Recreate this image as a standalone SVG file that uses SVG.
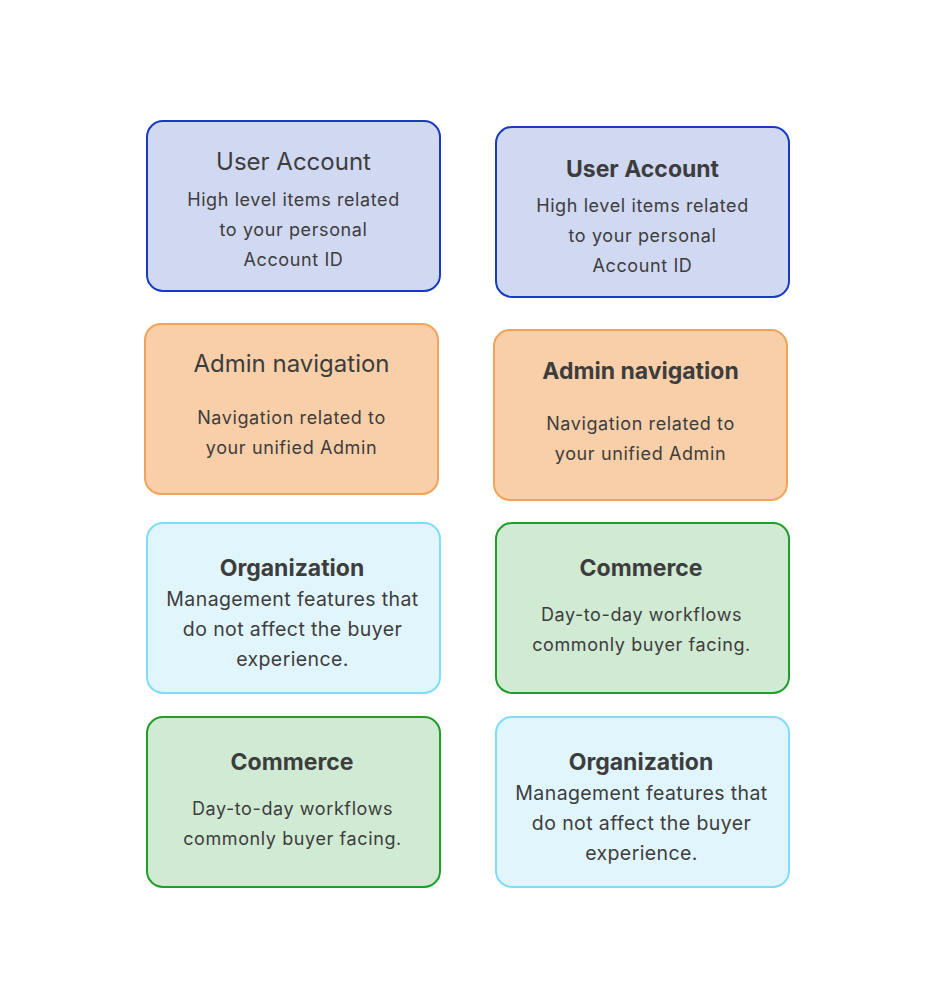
<svg xmlns="http://www.w3.org/2000/svg" width="935" height="995" viewBox="0 0 935 995">
<style>
.box{stroke-width:2}
.blue{fill:#d0d8f2;stroke:#1a3bc1}
.orange{fill:#f8cfa8;stroke:#f2a35a}
.sky{fill:#e1f5fd;stroke:#80dcf8}
.green{fill:#d0ead3;stroke:#1f9e2a}
text{font-family:Inter,"Noto Sans","Liberation Sans",sans-serif;fill:#3d3d3d;text-anchor:middle}
.t{font-size:24px}
.tb{font-size:23px;font-weight:700}
.b{font-size:18px;letter-spacing:0.6px}
.bo{font-size:19.5px;letter-spacing:0.4px}
</style>
<rect width="935" height="995" fill="#ffffff"/>
<g id="user-account-1">
<rect class="box blue" x="147" y="121" width="293" height="170" rx="16"/>
<text class="t" x="293.5" y="170">User Account</text>
<text class="b" x="293.5" y="206">High level items related</text>
<text class="b" x="293.5" y="236">to your personal</text>
<text class="b" x="293.5" y="266">Account ID</text>
</g>
<g id="user-account-2">
<rect class="box blue" x="496" y="127" width="293" height="170" rx="16"/>
<text class="tb" x="642.5" y="177">User Account</text>
<text class="b" x="642.5" y="212">High level items related</text>
<text class="b" x="642.5" y="242">to your personal</text>
<text class="b" x="642.5" y="272">Account ID</text>
</g>
<g id="admin-nav-1">
<rect class="box orange" x="145" y="324" width="293" height="170" rx="16"/>
<text class="t" x="291.5" y="372">Admin navigation</text>
<text class="b" x="291.5" y="424">Navigation related to</text>
<text class="b" x="291.5" y="454">your unified Admin</text>
</g>
<g id="admin-nav-2">
<rect class="box orange" x="494" y="330" width="293" height="170" rx="16"/>
<text class="tb" x="640.5" y="379">Admin navigation</text>
<text class="b" x="640.5" y="430">Navigation related to</text>
<text class="b" x="640.5" y="460">your unified Admin</text>
</g>
<g id="organization-1">
<rect class="box sky" x="147" y="523" width="293" height="170" rx="16"/>
<text class="tb" x="292" y="576">Organization</text>
<text class="bo" x="292.5" y="606">Management features that</text>
<text class="bo" x="292.5" y="636">do not affect the buyer</text>
<text class="bo" x="292.5" y="666">experience.</text>
</g>
<g id="commerce-1">
<rect class="box green" x="496" y="523" width="293" height="170" rx="16"/>
<text class="tb" x="641" y="576">Commerce</text>
<text class="b" x="641.5" y="621">Day-to-day workflows</text>
<text class="b" x="641.5" y="651">commonly buyer facing.</text>
</g>
<g id="commerce-2">
<rect class="box green" x="147" y="717" width="293" height="170" rx="16"/>
<text class="tb" x="292" y="770">Commerce</text>
<text class="b" x="292.5" y="815">Day-to-day workflows</text>
<text class="b" x="292.5" y="845">commonly buyer facing.</text>
</g>
<g id="organization-2">
<rect class="box sky" x="496" y="717" width="293" height="170" rx="16"/>
<text class="tb" x="641" y="770">Organization</text>
<text class="bo" x="641.5" y="800">Management features that</text>
<text class="bo" x="641.5" y="830">do not affect the buyer</text>
<text class="bo" x="641.5" y="860">experience.</text>
</g>
<g id="connectors"></g>
</svg>
